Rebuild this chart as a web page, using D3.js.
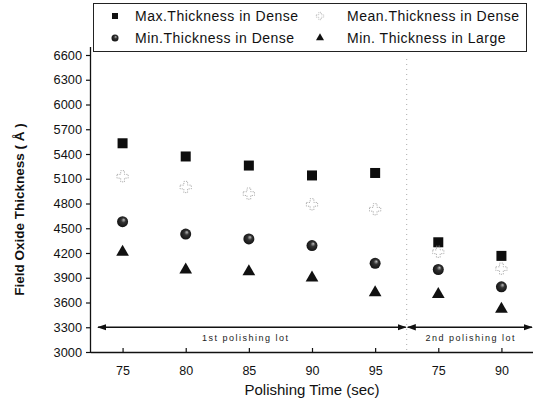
<!DOCTYPE html>
<html>
<head>
<meta charset="utf-8">
<script src="https://cdn.jsdelivr.net/npm/d3@7"></script>
<style>
  html, body { margin: 0; padding: 0; background: #fff; }
  svg { display: block; font-family: "Liberation Sans", Arial, sans-serif; }
</style>
</head>
<body>
<svg id="chart" width="536" height="403"></svg>
<script>
// Polishing time for each run (two lots share the 75 / 90 s settings)
const timeLabels = ["75", "80", "85", "90", "95", "75", "90"];
const lotOf = [1, 1, 1, 1, 1, 2, 2];

// Field oxide thickness (Å)
const maxDense  = [5530, 5370, 5260, 5140, 5170, 4330, 4165];
const meanDense = [5130, 5000, 4920, 4790, 4730, 4215, 4010];
const minDense  = [4580, 4430, 4370, 4290, 4075, 4000, 3790];
const minLarge  = [4210, 3995, 3975, 3900, 3720, 3700, 3520];

const yTicks = [3000, 3300, 3600, 3900, 4200, 4500, 4800, 5100, 5400, 5700, 6000, 6300, 6600];
const lotLabels = ["1st polishing lot", "2nd polishing lot"];
const lotMarkerValue = 3300;

const svg = d3.select("#chart");
const plotL = 91, plotR = 533, plotT = 55, plotB = 352;

const x = d3.scalePoint().domain(d3.range(timeLabels.length)).range([plotL, plotR]).padding(0.5);
const y = d3.scaleLinear().domain([3000, 6600]).range([plotB, plotT]);

// shaded sphere for the circle markers
const defs = svg.append("defs");
const grad = defs.append("radialGradient").attr("id", "sphere")
  .attr("cx", "0.5").attr("cy", "0.5").attr("r", "0.6").attr("fx", "0.62").attr("fy", "0.32");
grad.append("stop").attr("offset", "0").attr("stop-color", "#bdbdbd");
grad.append("stop").attr("offset", "0.35").attr("stop-color", "#333");
grad.append("stop").attr("offset", "1").attr("stop-color", "#0a0a0a");

const arrow = defs.append("marker").attr("id", "arr").attr("viewBox", "0 0 10 10")
  .attr("refX", 9).attr("refY", 5).attr("markerWidth", 6).attr("markerHeight", 6)
  .attr("orient", "auto-start-reverse");
arrow.append("path").attr("d", "M0,1.5L10,5L0,8.5z").attr("fill", "#111");

// Y axis
const yAxis = svg.append("g").attr("transform", `translate(${plotL},0)`)
  .call(d3.axisLeft(y).tickValues(yTicks).tickSize(5).tickPadding(4).tickFormat(d3.format("d")));
yAxis.select(".domain").attr("d", `M-0.5,${plotT - 8}V${plotB}`).attr("stroke", "#111").attr("stroke-width", 1.3);
yAxis.selectAll(".tick line").attr("stroke", "#111").attr("stroke-width", 1.2);
yAxis.selectAll(".tick text").attr("font-size", 12.8).attr("fill", "#111");

// X axis
const xAxis = svg.append("g").attr("transform", `translate(0,${plotB})`)
  .call(d3.axisBottom(x).tickSize(-4).tickPadding(14).tickFormat(i => timeLabels[i]));
xAxis.select(".domain").attr("d", `M${plotL},0.5H${plotR}`).attr("stroke", "#111").attr("stroke-width", 1.3);
xAxis.selectAll(".tick line").attr("stroke", "#111").attr("stroke-width", 1.2);
xAxis.selectAll(".tick text").attr("font-size", 12.5).attr("fill", "#111");

// dotted boundary between lots
const sepX = (x(4) + x(5)) / 2;
svg.append("line").attr("x1", sepX).attr("x2", sepX).attr("y1", plotT + 4).attr("y2", plotB)
  .attr("stroke", "#aaa").attr("stroke-width", 1).attr("stroke-dasharray", "1,4");

// lot span arrows at 3300
const ly = y(lotMarkerValue);
svg.append("line").attr("x1", plotL + 7).attr("x2", sepX - 1).attr("y1", ly).attr("y2", ly)
  .attr("stroke", "#111").attr("stroke-width", 1.5)
  .attr("marker-start", "url(#arr)").attr("marker-end", "url(#arr)");
svg.append("line").attr("x1", sepX + 1).attr("x2", plotR - 1).attr("y1", ly).attr("y2", ly)
  .attr("stroke", "#111").attr("stroke-width", 1.5)
  .attr("marker-start", "url(#arr)").attr("marker-end", "url(#arr)");

const lotCenters = [1, 2].map(l => {
  const ids = d3.range(timeLabels.length).filter(i => lotOf[i] === l);
  return (x(ids[0]) + x(ids[ids.length - 1])) / 2;
});
svg.selectAll(".lotlabel").data(lotLabels).join("text")
  .attr("x", (d, i) => lotCenters[i] - (i === 0 ? 3 : -1)).attr("y", ly + 14)
  .attr("text-anchor", "middle").attr("font-size", 9).attr("letter-spacing", 1.5)
  .attr("fill", "#222").text(d => d);

// axis titles
svg.append("text").attr("x", (plotL + plotR) / 2).attr("y", 395).attr("text-anchor", "middle")
  .attr("font-size", 15).attr("fill", "#111").text("Polishing Time (sec)");
svg.append("text").attr("transform", `translate(24,${(plotT + plotB) / 2 + 6}) rotate(-90)`)
  .attr("text-anchor", "middle").attr("font-size", 13.5).attr("font-weight", "bold")
  .attr("fill", "#111").text("Field Oxide Thickness ( Å )");

// markers
const idx = d3.range(timeLabels.length);
const g = svg.append("g");
g.selectAll(".sq").data(idx).join("rect")
  .attr("x", i => x(i) - 5).attr("y", i => y(maxDense[i]) - 5)
  .attr("width", 10).attr("height", 10).attr("fill", "#0d0d0d");
g.selectAll(".mean").data(idx).join("path")
  .attr("transform", i => `translate(${x(i)},${y(meanDense[i])})`)
  .attr("d", d3.symbol(d3.symbolCross, 70)())
  .attr("fill", "none").attr("stroke", "#a5a5a5").attr("stroke-width", 0.9).attr("stroke-dasharray", "1.2,1.2");
g.selectAll(".ci").data(idx).join("circle")
  .attr("cx", i => x(i)).attr("cy", i => y(minDense[i])).attr("r", 5.5)
  .attr("fill", "url(#sphere)");
g.selectAll(".tri").data(idx).join("path")
  .attr("transform", i => `translate(${x(i)},${y(minLarge[i])})`)
  .attr("d", d3.symbol(d3.symbolTriangle, 70)())
  .attr("fill", "#111");

// legend
const leg = svg.append("g");
leg.append("rect").attr("x", 93.5).attr("y", 3.5).attr("width", 433).attr("height", 48)
  .attr("fill", "#fff").attr("stroke", "#222").attr("stroke-width", 1);
const legendItems = [
  { name: "Max.Thickness in Dense", col: 0, row: 0, kind: "sq" },
  { name: "Mean.Thickness in Dense", col: 1, row: 0, kind: "mean" },
  { name: "Min.Thickness in Dense", col: 0, row: 1, kind: "ci" },
  { name: "Min. Thickness in Large", col: 1, row: 1, kind: "tri" }
];
const colX = [115, 320], rowY = [16, 38];
legendItems.forEach(it => {
  const mx = colX[it.col], my = rowY[it.row];
  if (it.kind === "sq") leg.append("rect").attr("x", mx - 3).attr("y", my - 3).attr("width", 6).attr("height", 6).attr("fill", "#111");
  if (it.kind === "mean") leg.append("path").attr("transform", `translate(${mx},${my})`)
    .attr("d", d3.symbol(d3.symbolCross, 30)()).attr("fill", "none").attr("stroke", "#aaa").attr("stroke-width", 0.8).attr("stroke-dasharray", "1,1");
  if (it.kind === "ci") leg.append("circle").attr("cx", mx).attr("cy", my).attr("r", 3.5).attr("fill", "url(#sphere)");
  if (it.kind === "tri") leg.append("path").attr("transform", `translate(${mx},${my})`)
    .attr("d", d3.symbol(d3.symbolTriangle, 28)()).attr("fill", "#111");
  leg.append("text").attr("x", it.col === 0 ? 135 : 347).attr("y", my + 5).attr("font-size", 14)
    .attr("letter-spacing", 0.5).attr("fill", "#111").text(it.name);
});
</script>
</body>
</html>
